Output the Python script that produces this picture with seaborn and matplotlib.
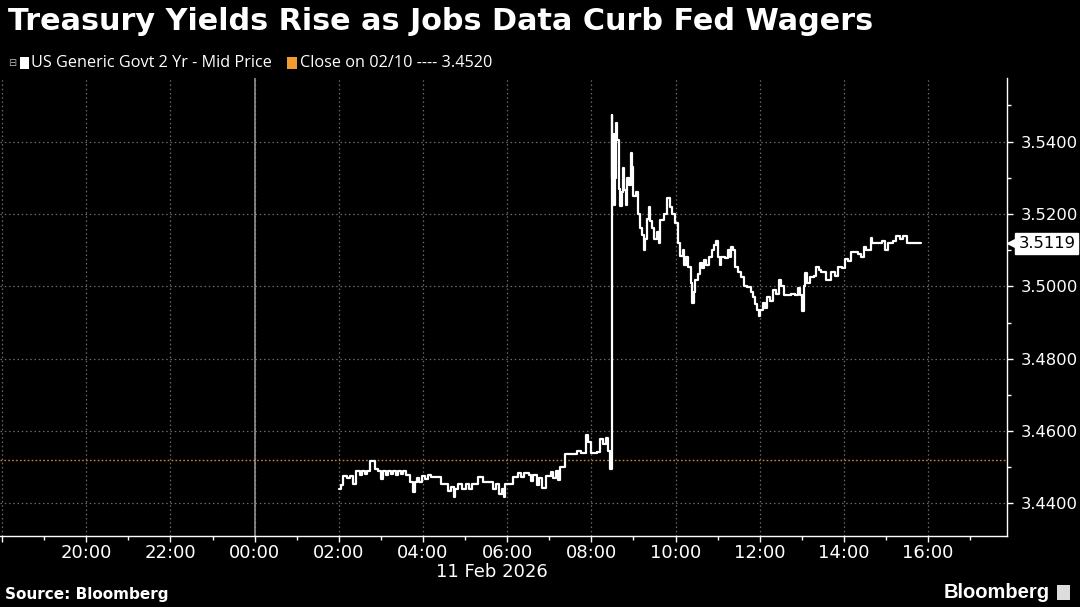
import numpy as np
import pandas as pd
import matplotlib
matplotlib.use("Agg")
import matplotlib.pyplot as plt
import matplotlib.dates as mdates
import matplotlib.ticker as mticker
import matplotlib.transforms as mtransforms
import seaborn as sns

# ---------------- data ----------------
times = [
    "02:00", "02:03", "02:06", "02:12", "02:16", "02:20", "02:25", "02:30", "02:33", "02:37",
    "02:40", "02:44", "02:52", "02:56", "03:00", "03:03", "03:07", "03:10", "03:14", "03:17",
    "03:21", "03:24", "03:28", "03:32", "03:36", "03:41", "03:46", "03:48", "03:52", "03:55",
    "03:58", "04:03", "04:07", "04:11", "04:25", "04:36", "04:40", "04:44", "04:46", "04:50",
    "04:55", "05:02", "05:06", "05:10", "05:19", "05:25", "05:35", "05:40", "05:44", "05:48",
    "05:52", "05:55", "05:57", "06:09", "06:15", "06:20", "06:24", "06:31", "06:34", "06:37",
    "06:42", "06:45", "06:50", "06:55", "07:03", "07:06", "07:10", "07:13", "07:16", "07:22",
    "07:40", "07:45", "07:52", "07:55", "08:00", "08:08", "08:12", "08:16", "08:21", "08:24",
    "08:27", "08:29", "08:30", "08:32", "08:33", "08:34", "08:35", "08:37", "08:39", "08:41",
    "08:43", "08:45", "08:47", "08:49", "08:51", "08:54", "08:56", "08:58", "09:00", "09:04",
    "09:06", "09:09", "09:12", "09:15", "09:17", "09:20", "09:22", "09:24", "09:27", "09:29",
    "09:33", "09:36", "09:38", "09:43", "09:48", "09:52", "09:55", "09:59", "10:03", "10:07",
    "10:10", "10:12", "10:15", "10:18", "10:22", "10:24", "10:26", "10:28", "10:32", "10:35",
    "10:38", "10:40", "10:44", "10:48", "10:52", "10:55", "10:58", "11:00", "11:03", "11:05",
    "11:10", "11:15", "11:17", "11:19", "11:22", "11:25", "11:29", "11:33", "11:37", "11:42",
    "11:47", "11:50", "11:53", "11:56", "11:59", "12:01", "12:04", "12:08", "12:11", "12:15",
    "12:19", "12:23", "12:27", "12:31", "12:35", "12:45", "12:50", "12:54", "12:58", "13:01",
    "13:03", "13:05", "13:08", "13:11", "13:17", "13:20", "13:24", "13:27", "13:34", "13:42",
    "13:48", "13:51", "13:57", "14:01", "14:06", "14:10", "14:20", "14:24", "14:28", "14:32",
    "14:38", "14:40", "14:55", "14:58", "15:03", "15:10", "15:15", "15:20", "15:24", "15:30",
    "15:50",
]
yields = [
    3.4440, 3.4452, 3.4477, 3.4470, 3.4477, 3.4455, 3.4490, 3.4478, 3.4490, 3.4480,
    3.4490, 3.4516, 3.4496, 3.4490, 3.4468, 3.4490, 3.4478, 3.4490, 3.4480, 3.4490,
    3.4478, 3.4490, 3.4480, 3.4490, 3.4478, 3.4458, 3.4432, 3.4458, 3.4470, 3.4458,
    3.4475, 3.4468, 3.4478, 3.4472, 3.4455, 3.4435, 3.4445, 3.4417, 3.4440, 3.4455,
    3.4440, 3.4455, 3.4440, 3.4455, 3.4472, 3.4458, 3.4458, 3.4440, 3.4455, 3.4425,
    3.4440, 3.4417, 3.4455, 3.4472, 3.4485, 3.4472, 3.4485, 3.4478, 3.4462, 3.4478,
    3.4450, 3.4470, 3.4442, 3.4477, 3.4488, 3.4470, 3.4490, 3.4465, 3.4500, 3.4537,
    3.4545, 3.4540, 3.4590, 3.4570, 3.4540, 3.4542, 3.4579, 3.4565, 3.4580, 3.4545,
    3.4496, 3.5474, 3.5300, 3.5420, 3.5225, 3.5300, 3.5452, 3.5405, 3.5270, 3.5222,
    3.5260, 3.5327, 3.5266, 3.5225, 3.5300, 3.5280, 3.5368, 3.5330, 3.5250, 3.5260,
    3.5200, 3.5160, 3.5142, 3.5100, 3.5130, 3.5185, 3.5219, 3.5180, 3.5160, 3.5130,
    3.5150, 3.5120, 3.5183, 3.5200, 3.5244, 3.5220, 3.5200, 3.5175, 3.5120, 3.5085,
    3.5100, 3.5060, 3.5080, 3.5053, 3.5010, 3.4955, 3.4985, 3.5017, 3.5035, 3.5064,
    3.5050, 3.5072, 3.5060, 3.5080, 3.5100, 3.5114, 3.5125, 3.5080, 3.5060, 3.5080,
    3.5078, 3.5100, 3.5080, 3.5110, 3.5100, 3.5053, 3.5040, 3.5025, 3.5000, 3.4998,
    3.4985, 3.4970, 3.4950, 3.4935, 3.4918, 3.4935, 3.4953, 3.4940, 3.4970, 3.4960,
    3.4989, 3.4980, 3.5017, 3.5000, 3.4975, 3.4980, 3.4975, 3.4995, 3.4975, 3.4932,
    3.5000, 3.5036, 3.5010, 3.5025, 3.5030, 3.5053, 3.5045, 3.5040, 3.5017, 3.5040,
    3.5030, 3.5053, 3.5050, 3.5077, 3.5070, 3.5094, 3.5090, 3.5080, 3.5108, 3.5100,
    3.5133, 3.5119, 3.5125, 3.5100, 3.5119, 3.5125, 3.5139, 3.5130, 3.5139, 3.5119,
    3.5119,
]
trade_date = "2026-02-11"
prev_close = 3.4520
last_value = 3.5119
y_ticks = [3.4400, 3.4600, 3.4800, 3.5000, 3.5200, 3.5400]
title = "Treasury Yields Rise as Jobs Data Curb Fed Wagers"
series_label = "US Generic Govt 2 Yr - Mid Price"
close_label = "Close on 02/10 ---- 3.4520"
date_label = "11 Feb 2026"
source_label = "Source: Bloomberg"

df = pd.DataFrame({"time": pd.to_datetime([f"{trade_date} {t}" for t in times]),
                   "yield": yields})

# ---------------- style ----------------
sns.set_style("ticks")
BG = "#000000"
FG = "#ffffff"
GRID = "#6a6a6a"
ORANGE = "#f29b30"
plt.rcParams["font.family"] = ["DejaVu Sans"]

fig = plt.figure(figsize=(10.8, 6.07), dpi=100, facecolor=BG)
ax = fig.add_axes([0.0, 0.1170, 0.9327, 0.7545])
ax.set_facecolor(BG)

x0 = pd.Timestamp("2026-02-10 17:57")
x1 = pd.Timestamp("2026-02-11 17:53")
ax.set_xlim(x0, x1)
ax.set_ylim(3.4310, 3.5576)

first_label = mdates.date2num(pd.Timestamp("2026-02-10 20:00"))


def hour_fmt(x, pos=None):
    if x < first_label - 1e-6:
        return ""
    return mdates.num2date(x).strftime("%H:%M")


ax.xaxis.set_major_locator(mdates.HourLocator(byhour=range(0, 24, 2)))
ax.xaxis.set_minor_locator(mdates.HourLocator(byhour=range(1, 24, 2)))
ax.xaxis.set_major_formatter(mticker.FuncFormatter(hour_fmt))
ax.yaxis.set_major_locator(mticker.FixedLocator(y_ticks))
ax.yaxis.set_minor_locator(mticker.MultipleLocator(0.01))
ax.yaxis.set_major_formatter(mticker.FormatStrFormatter("%.4f"))
ax.yaxis.tick_right()

ax.grid(True, which="major", color=GRID, linestyle=(0, (1.2, 2.2)), linewidth=0.9)
ax.axvline(pd.Timestamp(f"{trade_date} 00:00"), color="#9a9a9a", linewidth=1.1, zorder=1.5)
ax.axhline(prev_close, color=ORANGE, linestyle=(0, (1.2, 1.6)), linewidth=1.0, alpha=0.85, zorder=1.6)

sns.lineplot(data=df, x="time", y="yield", ax=ax, color=FG, linewidth=1.6,
             drawstyle="steps-post", estimator=None, zorder=3, legend=False)
ax.set_xlabel("")
ax.set_ylabel("")

for s in ["left", "top"]:
    ax.spines[s].set_visible(False)
for s in ["right", "bottom"]:
    ax.spines[s].set_color(FG)
    ax.spines[s].set_linewidth(1.0)

ax.tick_params(axis="x", which="major", colors=FG, labelsize=13, length=4, width=1, pad=2)
ax.tick_params(axis="x", which="minor", colors=FG, length=3, width=1)
ax.tick_params(axis="y", which="major", colors=FG, labelsize=11.8, length=4, width=1, pad=6,
               right=True, left=False)
ax.tick_params(axis="y", which="minor", colors=FG, length=3, width=1, right=True, left=False)

# last value tag on the right axis
trans = mtransforms.blended_transform_factory(ax.transAxes, ax.transData)
ax.plot([1.0055], [last_value], marker="<", markersize=9, color=FG, transform=trans,
        clip_on=False, zorder=5)
ax.text(1.011, last_value, f"{last_value:.4f}", transform=trans, ha="left", va="center",
        fontsize=11.8, color="#000000",
        bbox=dict(boxstyle="square,pad=0.18", facecolor=FG, edgecolor=FG), zorder=6,
        clip_on=False)

# ---------------- texts ----------------
fig.text(8 / 1080, 1 - 22 / 607, title, ha="left", va="center", fontsize=21.8,
         fontweight="bold", color=FG, family=["DejaVu Sans"])

leg_y = 1 - 63 / 607
fig.text(8 / 1080, leg_y, "\u229f", ha="left", va="center", fontsize=7, color="#bbbbbb")
fig.patches.append(plt.Rectangle((20 / 1080, leg_y - 6 / 607), 9 / 1080, 12 / 607,
                                 transform=fig.transFigure, facecolor=FG, edgecolor="none"))
fig.text(31 / 1080, leg_y, series_label, ha="left", va="center", fontsize=11.7,
         color=FG, family=["Open Sans", "DejaVu Sans"])
fig.patches.append(plt.Rectangle((287 / 1080, leg_y - 6 / 607), 10 / 1080, 12 / 607,
                                 transform=fig.transFigure, facecolor=ORANGE, edgecolor="none"))
fig.text(300 / 1080, leg_y, close_label, ha="left", va="center", fontsize=11.7,
         color=FG, family=["Open Sans", "DejaVu Sans"])

fig.text(492 / 1080, 1 - 572 / 607, date_label, ha="center", va="center", fontsize=13,
         color=FG)
fig.text(5 / 1080, 1 - 595 / 607, source_label, ha="left", va="center", fontsize=11,
         fontweight="bold", color=FG)
fig.text(1050 / 1080, 1 - 592 / 607, "Bloomberg", ha="right", va="center", fontsize=14.5,
         fontweight="bold", color=FG, family=["Liberation Sans", "DejaVu Sans"])
fig.patches.append(plt.Rectangle((1057 / 1080, 1 - 600 / 607), 13 / 1080, 15 / 607,
                                 transform=fig.transFigure, facecolor="#dddddd", edgecolor="none"))

fig.savefig("out.png", dpi=100, facecolor=BG)
